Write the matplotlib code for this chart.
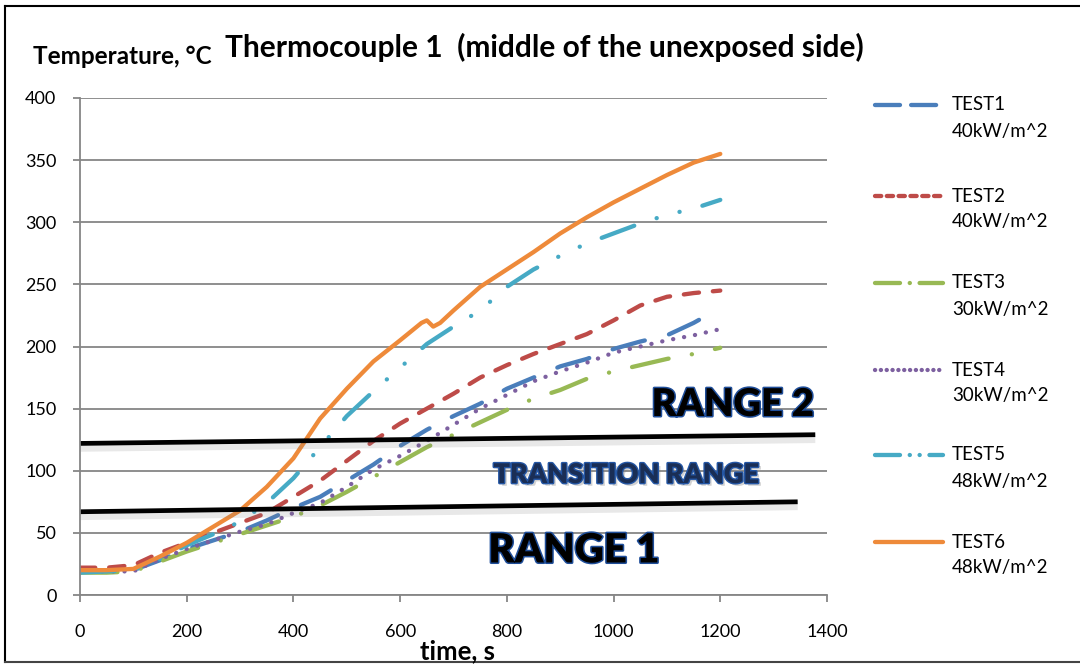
import matplotlib
matplotlib.use("Agg")
import matplotlib.pyplot as plt
import matplotlib.patheffects as pe
from matplotlib.lines import Line2D

plt.rcParams['font.family'] = ['Lato', 'DejaVu Sans']
plt.rcParams['lines.scale_dashes'] = False

# ---------------- data ----------------
t = [0, 50, 100, 150, 200, 250, 300, 350, 400, 450, 500, 550, 600, 650,
     700, 750, 800, 850, 900, 950, 1000, 1050, 1100, 1150, 1200]

test1 = [19, 19, 20, 28, 37, 44, 51, 60, 70, 79, 92, 105, 120, 133,
         144, 154, 166, 175, 184, 190, 198, 204, 209, 219, 231]
test2 = [22, 22, 24, 34, 42, 50, 58, 66, 79, 92, 108, 124, 138, 150,
         162, 175, 185, 194, 202, 210, 221, 233, 240, 243, 245]
test3 = [18, 18, 19, 27, 35, 42, 49, 56, 63, 72, 83, 95, 107, 119,
         129, 139, 149, 158, 165, 174, 180, 185, 190, 194, 199]
test4 = [19, 19, 19, 29, 37, 44, 51, 57, 66, 74, 87, 101, 112, 124,
         137, 150, 161, 172, 180, 187, 195, 200, 205, 209, 214]
test5 = [18, 19, 20, 29, 40, 49, 59, 74, 94, 119, 144, 164, 183, 202,
         216, 229, 248, 262, 273, 283, 291, 299, 306, 311, 318]

t6 = [0, 50, 100, 150, 200, 250, 300, 350, 400, 450, 500, 550, 600, 640,
      650, 662, 675, 700, 750, 800, 850, 900, 950, 1000, 1050, 1100, 1150, 1200]
test6 = [20, 20, 21, 31, 42, 55, 68, 87, 110, 142, 166, 188, 205, 219,
         221, 216, 219, 229, 248, 262, 276, 291, 304, 316, 327, 338, 348, 355]

names = ["TEST1", "TEST2", "TEST3", "TEST4", "TEST5", "TEST6"]
fluxes = ["40kW/m^2", "40kW/m^2", "30kW/m^2", "30kW/m^2", "48kW/m^2", "48kW/m^2"]

x_ticks = [0, 200, 400, 600, 800, 1000, 1200, 1400]
y_ticks = [0, 50, 100, 150, 200, 250, 300, 350, 400]

# boundary lines (x, y) endpoints
lower_x = [0, 1345]
lower_y = [67, 75]
upper_x = [0, 1378]
upper_y = [122, 129]

# ---------------- style ----------------
colors = ["#4A7EBB", "#BE4B48", "#98B954", "#7D60A0", "#46AAC5", "#EE8A3A"]
LW = 3.1
styles = [(0, (24, 18)),
          (0, (11, 10)),
          (0, (27, 17, 0.1, 17)),
          (0, (0.1, 7.9)),
          (0, (25, 17, 0.1, 17, 0.1, 17)),
          "-"]
legend_styles = [(0, (18, 8)),
                 (0, (4.5, 4)),
                 (0, (18, 7, 0.1, 7)),
                 (0, (0.1, 4.1)),
                 (0, (18, 7, 0.1, 7, 0.1, 7)),
                 "-"]

fig = plt.figure(figsize=(10.8, 6.64), dpi=100)
ax = fig.add_axes([80/1080, 1-595/664, (827-80)/1080, (595-98)/664])

series = [(t, test1), (t, test2), (t, test3), (t, test4), (t, test5), (t6, test6)]
for (xs, ys), c, ls in zip(series, colors, styles):
    ax.plot(xs, ys, color=c, lw=LW, linestyle=ls,
            solid_capstyle='round', dash_capstyle='round',
            solid_joinstyle='round')

shadow = [pe.SimpleLineShadow(offset=(0, -2.5), shadow_color='gray', alpha=0.18, linewidth=7),
          pe.Normal()]
ax.plot(lower_x, lower_y, color='black', lw=3.4, solid_capstyle='butt', path_effects=shadow, clip_on=False)
ax.plot(upper_x, upper_y, color='black', lw=3.4, solid_capstyle='butt', path_effects=shadow, clip_on=False)

ax.set_xlim(0, 1400)
ax.set_ylim(0, 400)
ax.set_xticks(x_ticks)
ax.set_yticks(y_ticks)
ax.grid(axis='y', color='#868686', lw=1.3)
ax.set_axisbelow(True)
for s in ['top', 'right']:
    ax.spines[s].set_visible(False)
for s in ['left', 'bottom']:
    ax.spines[s].set_color('#868686')
    ax.spines[s].set_linewidth(1.3)
ax.tick_params(axis='both', colors='#868686', length=5, width=1.3, labelcolor='black',
               labelsize=13)
ax.tick_params(axis='x', pad=16)
ax.tick_params(axis='y', pad=12)

# texts
fig.text(225/1080, 1-47/664, "Thermocouple 1  (middle of the unexposed side)",
         fontsize=21.5, fontweight='bold', ha='left', va='center')
fig.text(33/1080, 1-57/664, "Temperature, °C", fontsize=17.5, fontweight='bold',
         ha='left', va='center')
fig.text(420/1080, 1-651/664, "time, s", fontsize=18.5, fontweight='bold',
         ha='left', va='center')

outline = [pe.withStroke(linewidth=2.2, foreground='#1F4E9A')]
fig.text(733/1080, 1-405/664, "RANGE 2", fontsize=27.5, fontweight='heavy',
         ha='center', va='center', color='black', path_effects=outline)
fig.text(574/1080, 1-551/664, "RANGE 1", fontsize=29, fontweight='heavy',
         ha='center', va='center', color='black', path_effects=outline)
fig.text(626/1080, 1-475/664, "TRANSITION RANGE", fontsize=19.5, fontweight='heavy',
         ha='center', va='center', color='#1A2E55',
         path_effects=[pe.withSimplePatchShadow(offset=(2, -2), shadow_rgbFace='gray', alpha=0.35),
                       pe.withStroke(linewidth=2, foreground='#2456A4')])

# legend (drawn manually so the key line aligns with the first text line)
row_y = [105, 196, 283, 370, 455, 542]
for i in range(6):
    yy = 1 - row_y[i] / 664
    fig.add_artist(Line2D([875/1080, 943/1080], [yy, yy], color=colors[i], lw=LW,
                          linestyle=legend_styles[i], solid_capstyle='round',
                          dash_capstyle='round'))
    fig.text(952/1080, yy, names[i], fontsize=13.5, ha='left', va='center')
    fig.text(952/1080, 1 - (row_y[i] + 26) / 664, fluxes[i], fontsize=13.5,
             ha='left', va='center')

# outer frame
fig.add_artist(Line2D([5/1080, 5/1080], [1-6/664, 1-662/664], color='black', lw=1.5))
fig.add_artist(Line2D([5/1080, 1.0], [1-6/664, 1-6/664], color='black', lw=1.5))
fig.add_artist(Line2D([5/1080, 1.0], [1-662/664, 1-662/664], color='#444444', lw=1.5))

fig.savefig("out.png", dpi=100)
